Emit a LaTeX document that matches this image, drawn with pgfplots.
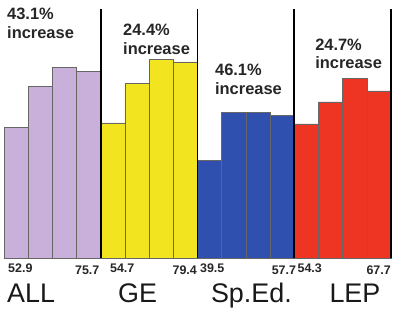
\documentclass[border=0pt]{standalone}
\usepackage{fontspec}
\setmainfont{Liberation Sans}
\usepackage{pgfplots}
\pgfplotsset{compat=1.18}
\definecolor{cAll}{HTML}{C8B0DA}
\definecolor{cGE}{HTML}{F2E41E}
\definecolor{cSp}{HTML}{3050B0}
\definecolor{cLEP}{HTML}{EE3524}
\begin{document}
\begin{tikzpicture}
\begin{axis}[name=ax, scale only axis, width=387bp, height=247bp,
  xmin=0, xmax=16, ymin=0, ymax=100, hide axis, clip=false]
\addplot[ybar, bar width=1, bar shift=0pt, fill=cAll, draw=black!60, line width=0.4pt]
  coordinates {(0.5,52.9) (1.5,69.5) (2.5,77.3) (3.5,75.7)};
\addplot[ybar, bar width=1, bar shift=0pt, fill=cGE, draw=black!60, line width=0.4pt]
  coordinates {(4.5,54.7) (5.5,70.8) (6.5,80.3) (7.5,79.4)};
\addplot[ybar, bar width=1, bar shift=0pt, fill=cSp, draw=black!60, line width=0.4pt]
  coordinates {(8.5,39.5) (9.5,59.0) (10.5,59.0) (11.5,57.7)};
\addplot[ybar, bar width=1, bar shift=0pt, fill=cLEP, draw=black!60, line width=0.4pt]
  coordinates {(12.5,54.3) (13.5,63.2) (14.5,72.8) (15.5,67.7)};
\addplot[black, line width=1.6bp] coordinates {(4,0) (4,101)};
\addplot[black, line width=1.6bp] coordinates {(8,0) (8,101)};
\addplot[black, line width=1.6bp] coordinates {(12,0) (12,101)};
\addplot[black, line width=1.6bp] coordinates {(16,0) (16,101)};
% annotations
\begin{scope}[every node/.style={inner sep=0pt, anchor=base west, font=\bfseries\fontsize{16.5}{18}\selectfont, text=black!85}]
\node at (axis cs:0.124,96.4) {43.1\%};
\node at (axis cs:0.124,88.7) {increase};
\node at (axis cs:4.92,89.9) {24.4\%};
\node at (axis cs:4.92,82.2) {increase};
\node at (axis cs:8.72,73.7) {46.1\%};
\node at (axis cs:8.72,66.0) {increase};
\node at (axis cs:12.86,84.2) {24.7\%};
\node at (axis cs:12.86,76.9) {increase};
\end{scope}
% value labels
\begin{scope}[every node/.style={inner sep=0pt, font=\bfseries\fontsize{12.5}{14}\selectfont, text=black!85}]
\node[anchor=base west] at (axis cs:0.165,-5.67) {52.9};
\node[anchor=base east] at (axis cs:3.95,-6.48) {75.7};
\node[anchor=base west] at (axis cs:4.38,-5.67) {54.7};
\node[anchor=base east] at (axis cs:7.98,-6.48) {79.4};
\node[anchor=base west] at (axis cs:8.10,-5.67) {39.5};
\node[anchor=base east] at (axis cs:12.08,-6.48) {57.7};
\node[anchor=base west] at (axis cs:12.13,-5.67) {54.3};
\node[anchor=base east] at (axis cs:16.0,-6.48) {67.7};
\end{scope}
% category labels
\begin{scope}[every node/.style={inner sep=0pt, anchor=base west, font=\fontsize{27}{29}\selectfont, text=black!90}]
\node at (axis cs:0.124,-18.2) {ALL};
\node at (axis cs:4.71,-18.2) {GE};
\node at (axis cs:8.55,-18.2) {Sp.Ed.};
\node at (axis cs:13.45,-18.2) {LEP};
\end{scope}
\end{axis}
\pgfresetboundingbox
\path (ax.south west) ++(-4bp,-52bp) rectangle ++(393bp,310bp);
\end{tikzpicture}
\end{document}
